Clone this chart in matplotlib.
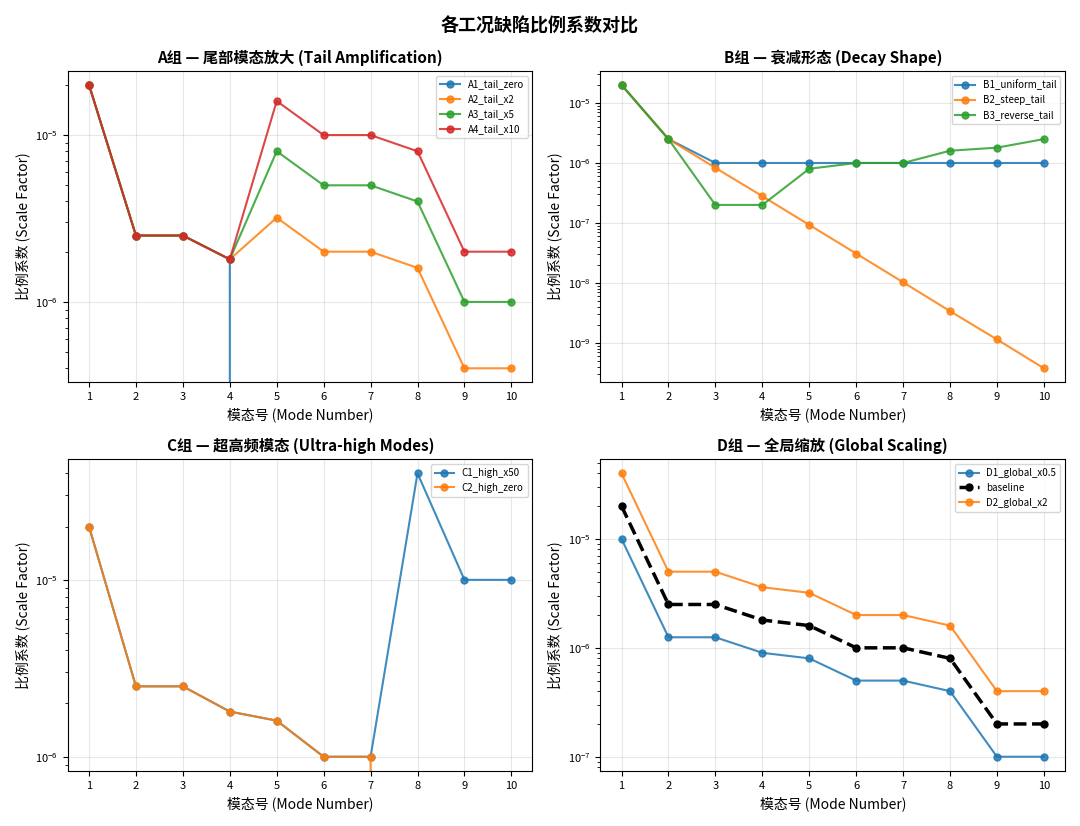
import numpy as np
import matplotlib
matplotlib.use('Agg')
import matplotlib.pyplot as plt

plt.rcParams['font.family'] = ['Noto Sans CJK SC', 'DejaVu Sans']
plt.rcParams['axes.unicode_minus'] = False

modes = np.arange(1, 11)
baseline = [2e-5, 2.5e-6, 2.5e-6, 1.8e-6, 1.6e-6, 1e-6, 1e-6, 8e-7, 2e-7, 2e-7]

A1_tail_zero = [2e-5, 2.5e-6, 2.5e-6, 1.8e-6, 0, 0, 0, 0, 0, 0]
A2_tail_x2 = [2e-5, 2.5e-6, 2.5e-6, 1.8e-6, 3.2e-6, 2e-6, 2e-6, 1.6e-6, 4e-7, 4e-7]
A3_tail_x5 = [2e-5, 2.5e-6, 2.5e-6, 1.8e-6, 8e-6, 5e-6, 5e-6, 4e-6, 1e-6, 1e-6]
A4_tail_x10 = [2e-5, 2.5e-6, 2.5e-6, 1.8e-6, 1.6e-5, 1e-5, 1e-5, 8e-6, 2e-6, 2e-6]

B1_uniform_tail = [2e-5, 2.5e-6, 1e-6, 1e-6, 1e-6, 1e-6, 1e-6, 1e-6, 1e-6, 1e-6]
B2_steep_tail = [2e-5, 2.5e-6, 8.3e-7, 2.8e-7, 9.3e-8, 3.1e-8, 1.03e-8, 3.4e-9, 1.15e-9, 3.8e-10]
B3_reverse_tail = [2e-5, 2.5e-6, 2e-7, 2e-7, 8e-7, 1e-6, 1e-6, 1.6e-6, 1.8e-6, 2.5e-6]

C1_high_x50 = [2e-5, 2.5e-6, 2.5e-6, 1.8e-6, 1.6e-6, 1e-6, 1e-6, 4e-5, 1e-5, 1e-5]
C2_high_zero = [2e-5, 2.5e-6, 2.5e-6, 1.8e-6, 1.6e-6, 1e-6, 1e-6, 0, 0, 0]

D1_global_x05 = [v * 0.5 for v in baseline]
D2_global_x2 = [v * 2 for v in baseline]

fig, axes = plt.subplots(2, 2, figsize=(10.8, 8.26), dpi=100)
fig.suptitle('各工况缺陷比例系数对比', fontsize=13, fontweight='bold')

panels = [
    ('A组 — 尾部模态放大 (Tail Amplification)',
     [('A1_tail_zero', A1_tail_zero), ('A2_tail_x2', A2_tail_x2),
      ('A3_tail_x5', A3_tail_x5), ('A4_tail_x10', A4_tail_x10)]),
    ('B组 — 衰减形态 (Decay Shape)',
     [('B1_uniform_tail', B1_uniform_tail), ('B2_steep_tail', B2_steep_tail),
      ('B3_reverse_tail', B3_reverse_tail)]),
    ('C组 — 超高频模态 (Ultra-high Modes)',
     [('C1_high_x50', C1_high_x50), ('C2_high_zero', C2_high_zero)]),
    ('D组 — 全局缩放 (Global Scaling)',
     [('D1_global_x0.5', D1_global_x05), ('baseline', baseline),
      ('D2_global_x2', D2_global_x2)]),
]
colors = ['#1f77b4', '#ff7f0e', '#2ca02c', '#d62728']

for ax, (title, series) in zip(axes.flat, panels):
    ci = 0
    for name, vals in series:
        if name == 'baseline':
            ax.plot(modes, vals, 'o--', color='black', lw=2.5, ms=5, label=name)
        else:
            ax.plot(modes, vals, 'o-', color=colors[ci], lw=1.5, ms=5,
                    alpha=0.85, label=name)
            ci += 1
    ax.set_yscale('log')
    ax.set_title(title, fontsize=11, fontweight='bold')
    ax.set_xlabel('模态号 (Mode Number)', fontsize=10)
    ax.set_ylabel('比例系数 (Scale Factor)', fontsize=10)
    ax.set_xticks(modes)
    ax.tick_params(labelsize=8)
    ax.grid(True, alpha=0.3)
    ax.legend(fontsize=7, loc='upper right')

plt.tight_layout()
plt.savefig('out.png', dpi=100)
